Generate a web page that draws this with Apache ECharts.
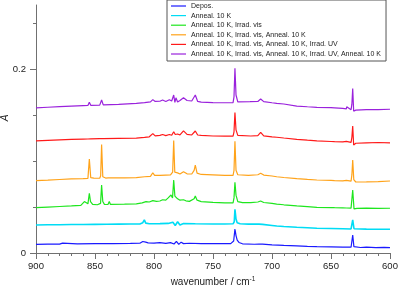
<!DOCTYPE html>
<html>
<head>
<meta charset="utf-8">
<script src="https://cdn.jsdelivr.net/npm/echarts@6/dist/echarts.min.js"></script>
<style>
  html, body { margin: 0; padding: 0; background: #fff; }
  #chart { width: 400px; height: 287px; }
</style>
</head>
<body>
<div id="chart"></div>
<script>
// legend names, top to bottom
const names = [
  'Depos.',
  'Anneal. 10 K',
  'Anneal. 10 K, Irrad. vis',
  'Anneal. 10 K, Irrad. vis, Anneal. 10 K',
  'Anneal. 10 K, Irrad. vis, Anneal. 10 K, Irrad. UV',
  'Anneal. 10 K, Irrad. vis, Anneal. 10 K, Irrad. UV, Anneal. 10 K'
]
const colors = ['#1a1aff', '#00dcf5', '#1ee61e', '#ffa31a', '#ff1a1a', '#9a22dc']

// spectra, [wavenumber, A]
const depos = [[900,0.0094],[890,0.0096],[880,0.0097],[877.5,0.0108],[876,0.0097],[865,0.0099],[850,0.0101],[835,0.0102],[820,0.0104],[812,0.0106],[809.5,0.0125],[808.3,0.0142],[807,0.0118],[805,0.0110],[800,0.0107],[795,0.0112],[790,0.0104],[786,0.0113],[783,0.0098],[781,0.0126],[779,0.0094],[777,0.0118],[775,0.0102],[770,0.0106],[760,0.0103],[745,0.0101],[735,0.0102],[732.5,0.0130],[731.4,0.0261],[730.5,0.0190],[729.5,0.0140],[728,0.0115],[725,0.0100],[715,0.0095],[711,0.0097],[709.6,0.0110],[708,0.0096],[700,0.0088],[690,0.0082],[679,0.0078],[670,0.0073],[662,0.0069],[650,0.0066],[640,0.0064],[633,0.0063],[631.6,0.0196],[630.6,0.0070],[625,0.0060],[620,0.0065],[612,0.0058],[605,0.0062],[600,0.0058]]

const anneal1 = [[900,0.0305],[890,0.0308],[880,0.0307],[870,0.0310],[860,0.0311],[850,0.0312],[840,0.0313],[830,0.0314],[820,0.0315],[812,0.0316],[809.5,0.0330],[808.2,0.0360],[807,0.0325],[804,0.0318],[795,0.0320],[788,0.0322],[784,0.0335],[782,0.0300],[780,0.0340],[778,0.0305],[775,0.0320],[765,0.0318],[750,0.0316],[740,0.0316],[733,0.0318],[732,0.0340],[731.4,0.0476],[730.5,0.0370],[729.5,0.0330],[727,0.0318],[720,0.0314],[711,0.0314],[709.6,0.0325],[708,0.0312],[700,0.0300],[696,0.0294],[690,0.0289],[679,0.0280],[670,0.0275],[662,0.0269],[650,0.0266],[640,0.0264],[633,0.0262],[631.6,0.0360],[630.5,0.0264],[620,0.0260],[610,0.0259],[600,0.0258]]

const irradVis = [[900,0.0493],[890,0.0500],[880,0.0506],[870,0.0512],[862,0.0518],[860.5,0.0530],[859,0.0560],[858.3,0.0540],[857.6,0.0555],[856,0.0535],[854.8,0.0650],[853.8,0.0560],[852,0.0530],[848,0.0525],[845.3,0.0540],[844.4,0.0740],[843.4,0.0560],[842,0.0530],[839,0.0528],[837.9,0.0560],[837,0.0530],[825,0.0532],[815,0.0535],[810,0.0545],[806.8,0.0559],[804,0.0555],[801,0.0570],[798,0.0562],[795,0.0566],[792.7,0.0580],[790,0.0575],[788,0.0600],[787.6,0.0613],[786.5,0.0590],[785.6,0.0631],[784.3,0.0600],[783.3,0.0795],[782.3,0.0620],[781.4,0.0610],[780,0.0590],[778,0.0575],[775,0.0580],[773,0.0568],[770,0.0562],[766,0.0590],[765,0.0620],[763.5,0.0575],[760,0.0560],[750,0.0552],[740,0.0545],[733,0.0545],[732.2,0.0600],[731.4,0.0770],[730.5,0.0630],[729,0.0560],[725,0.0548],[718,0.0548],[712,0.0555],[709.6,0.0566],[707,0.0550],[700,0.0540],[696,0.0533],[690,0.0525],[679,0.0512],[670,0.0505],[662,0.0497],[649.5,0.0495],[648.6,0.0510],[647,0.0493],[640,0.0492],[637,0.0490],[636.5,0.0480],[633,0.0488],[631.6,0.0686],[630.5,0.0480],[628,0.0486],[620,0.0488],[610,0.0485],[600,0.0487]]

const anneal2 = [[900,0.0787],[890,0.0793],[880,0.0800],[870,0.0806],[860,0.0810],[856,0.0812],[854.8,0.1023],[853.6,0.0820],[851,0.0815],[846,0.0814],[845.2,0.0840],[844.4,0.1180],[843.4,0.0830],[841,0.0816],[838.8,0.0818],[837.9,0.0838],[837,0.0818],[825,0.0818],[815,0.0820],[808,0.0830],[803,0.0835],[801,0.0874],[799.5,0.0845],[795,0.0845],[790,0.0848],[786,0.0850],[784.2,0.0880],[783.3,0.1224],[782.4,0.0880],[780,0.0872],[778,0.0860],[775,0.0885],[772,0.0862],[768,0.0860],[766,0.0900],[765,0.0958],[763.5,0.0870],[760,0.0855],[750,0.0850],[740,0.0845],[733,0.0846],[732.2,0.0900],[731.4,0.1217],[730.5,0.0900],[729,0.0852],[720,0.0846],[712,0.0852],[709.6,0.0868],[707,0.0848],[700,0.0838],[696,0.0830],[690,0.0822],[679,0.0810],[670,0.0802],[662,0.0795],[650,0.0790],[648.6,0.0802],[647,0.0788],[640,0.0785],[637,0.0790],[636.7,0.0800],[633,0.0782],[632.3,0.0850],[631.6,0.1012],[630.7,0.0800],[629,0.0773],[620,0.0775],[610,0.0778],[600,0.0784]]

const irradUV = [[900,0.1220],[890,0.1226],[880,0.1231],[870,0.1236],[860,0.1240],[856,0.1241],[854.8,0.1250],[853.6,0.1242],[846,0.1245],[844.4,0.1266],[843,0.1246],[830,0.1248],[815,0.1250],[808,0.1258],[804,0.1265],[801,0.1300],[799,0.1275],[795,0.1280],[792.7,0.1290],[790,0.1278],[787,0.1290],[785,0.1282],[783.3,0.1320],[782,0.1290],[780,0.1296],[778,0.1285],[775,0.1330],[772,0.1292],[768,0.1285],[765,0.1328],[763,0.1285],[760,0.1280],[750,0.1274],[740,0.1272],[733,0.1272],[732.2,0.1320],[731.4,0.1530],[730.5,0.1340],[729,0.1280],[718,0.1274],[712,0.1278],[709.6,0.1314],[707,0.1276],[700,0.1265],[696,0.1260],[690,0.1252],[679,0.1238],[670,0.1228],[662,0.1220],[650,0.1214],[648.6,0.1230],[647,0.1212],[640,0.1210],[637,0.1215],[636.7,0.1232],[633,0.1205],[632.3,0.1260],[631.6,0.1383],[630.8,0.1176],[629,0.1195],[620,0.1200],[610,0.1203],[600,0.1200]]

const anneal3 = [[900,0.1580],[890,0.1587],[880,0.1594],[870,0.1600],[860,0.1605],[856,0.1606],[854.8,0.1640],[853.6,0.1608],[846,0.1610],[844.4,0.1666],[843,0.1612],[830,0.1618],[815,0.1630],[808,0.1638],[803,0.1645],[801,0.1670],[799,0.1650],[795,0.1652],[792.7,0.1665],[790,0.1650],[787,0.1668],[785,0.1655],[783.3,0.1720],[782.3,0.1640],[781.4,0.1690],[780,0.1645],[778,0.1660],[775,0.1690],[772,0.1660],[768,0.1655],[765,0.1720],[763,0.1650],[760,0.1642],[750,0.1638],[740,0.1636],[733,0.1637],[732.2,0.1700],[731.4,0.2010],[730.5,0.1720],[729,0.1645],[718.6,0.1647],[712,0.1650],[709.6,0.1677],[707,0.1648],[700,0.1636],[696,0.1630],[690,0.1622],[679,0.1600],[670,0.1592],[662,0.1586],[650,0.1582],[648.6,0.1600],[647,0.1580],[640,0.1575],[637,0.1570],[636.7,0.1592],[633,0.1560],[632.3,0.1620],[631.6,0.1790],[630.8,0.1545],[629,0.1555],[620,0.1560],[610,0.1562],[600,0.1565]]

const spectra = [depos, anneal1, irradVis, anneal2, irradUV, anneal3]

const xMin = 600, xMax = 900
const yMax = 0.27
const plotTop = 5, plotBottom = 34, plotLeft = 36, plotRight = 10
const plotH = 287 - plotTop - plotBottom
const axisColor = '#707070'
const textColor = '#222'
const font = 'Liberation Sans, Arial, sans-serif'

// extra grids only carry the y ticks (0.05 minor up to 0.25, 0.2 major)
function topFor (v) { return 287 - plotBottom - v / yMax * plotH }
function grid (top) {
  return { left: plotLeft, right: plotRight, top: top, bottom: plotBottom, outerBoundsMode: 'none' }
}

let chart = echarts.init(document.getElementById('chart'), null, { renderer: 'canvas' })
chart.setOption({
  animation: false,
  textStyle: { fontFamily: font },
  grid: [grid(plotTop), grid(topFor(0.25)), grid(topFor(0.2))],
  legend: {
    data: names,
    orient: 'vertical',
    left: 167,
    top: 0,
    padding: [2, 5, 3, 4],
    icon: 'rect',
    itemWidth: 15,
    itemHeight: 1.2,
    itemGap: 1.6,
    borderColor: '#555',
    borderWidth: 1,
    backgroundColor: '#fff',
    textStyle: { fontSize: 7, lineHeight: 8, color: textColor, fontFamily: font }
  },
  xAxis: [
    {
      gridIndex: 0,
      type: 'value',
      min: xMin,
      max: xMax,
      interval: 50,
      inverse: true,
      axisLine: { show: true, lineStyle: { color: axisColor, width: 1 } },
      axisTick: { show: true, length: 6, lineStyle: { color: axisColor } },
      minorTick: { show: true, splitNumber: 5, length: 3, lineStyle: { color: axisColor } },
      axisLabel: { fontSize: 9.5, color: textColor, margin: 8 },
      splitLine: { show: false },
      name: 'wavenumber / cm{sup|-1}',
      nameLocation: 'middle',
      nameGap: 18,
      nameTextStyle: {
        fontSize: 10,
        color: textColor,
        rich: { sup: { fontSize: 6.5, verticalAlign: 'top', padding: [0, 0, 6, 0], color: textColor } }
      }
    },
    { gridIndex: 1, type: 'value', min: xMin, max: xMax, show: false },
    { gridIndex: 2, type: 'value', min: xMin, max: xMax, show: false }
  ],
  yAxis: [
    {
      gridIndex: 0,
      type: 'value',
      min: 0,
      max: yMax,
      axisLine: { show: true, lineStyle: { color: axisColor, width: 1 } },
      axisTick: { show: false },
      axisLabel: { show: false },
      splitLine: { show: false },
      name: 'A',
      nameLocation: 'middle',
      nameGap: 26,
      nameTextStyle: { fontSize: 10, fontStyle: 'italic', color: textColor, padding: [0, 0, 0, 22] }
    },
    {
      gridIndex: 1,
      type: 'value',
      min: 0,
      max: 0.25,
      interval: 0.05,
      axisLine: { show: false },
      axisTick: { show: true, length: 3, lineStyle: { color: axisColor } },
      axisLabel: { show: false },
      splitLine: { show: false }
    },
    {
      gridIndex: 2,
      type: 'value',
      min: 0,
      max: 0.2,
      interval: 0.2,
      axisLine: { show: false },
      axisTick: { show: true, length: 6, lineStyle: { color: axisColor } },
      axisLabel: { fontSize: 9.5, color: textColor, margin: 10 },
      splitLine: { show: false }
    }
  ],
  series: spectra.map((d, i) => ({
    name: names[i],
    type: 'line',
    xAxisIndex: 0,
    yAxisIndex: 0,
    data: d,
    showSymbol: false,
    symbol: 'none',
    silent: true,
    lineStyle: { color: colors[i], width: i === 1 ? 1.6 : 1.2 },
    itemStyle: { color: colors[i] }
  }))
})
</script>
</body>
</html>
